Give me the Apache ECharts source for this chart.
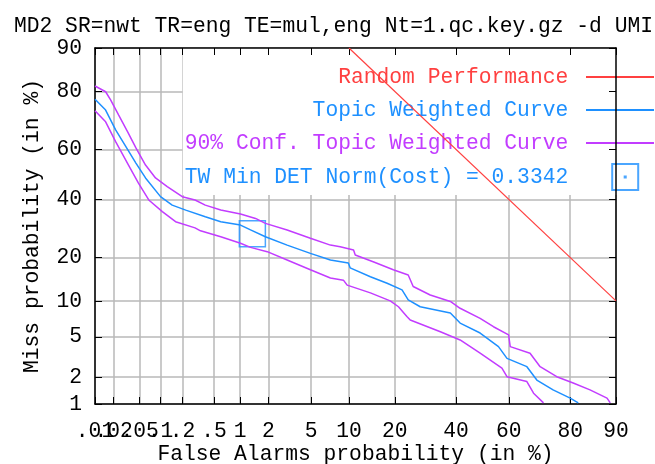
<!DOCTYPE html>
<html>
<head>
<meta charset="utf-8">
<script src="https://cdn.jsdelivr.net/npm/echarts@6/dist/echarts.min.js"></script>
<style>
html, body { margin: 0; padding: 0; background: #fff; }
#chart { width: 655px; height: 464px; }
</style>
</head>
<body>
<div id="chart"></div>
<script>
// tick marks (in %) and their printed labels
var xTickPct = [0.01, 0.02, 0.05, 0.1, 0.2, 0.5, 1, 2, 5, 10, 20, 40, 60, 80, 90];
var xTickLabels = ['.01', '.02', '.05', '.1', '.2', '.5', '1', '2', '5', '10', '20', '40', '60', '80', '90'];
var yTickPct = [1, 2, 5, 10, 20, 40, 60, 80, 90];
var yTickLabels = ['1', '2', '5', '10', '20', '40', '60', '80', '90'];

// 90% conf. upper bound
var upperFa = [0.01, 0.0149, 0.0179, 0.024, 0.033, 0.044, 0.061, 0.085, 0.124, 0.198, 0.29, 0.39, 0.60, 1.01, 1.47, 1.86, 3.04, 4.93, 7.22, 8.6, 10.8, 11.1, 14.7, 19.6, 23.8, 25.3, 30.8, 37.9, 41.5, 49.1, 54.2, 59.9, 60.5, 67.6, 71.0, 76.2, 80.8, 84.9, 88.4, 89.0];
var upperMiss = [81.5, 79.9, 77.5, 72.6, 66.7, 60.6, 53.8, 48.6, 45.1, 41.1, 39.8, 37.8, 35.9, 34.4, 32.8, 31.0, 28.7, 25.9, 23.7, 23.2, 22.2, 20.7, 18.8, 16.7, 15.4, 12.8, 11.1, 9.9, 8.75, 7.24, 6.14, 5.19, 4.05, 3.50, 2.57, 2.02, 1.73, 1.45, 1.17, 1.03];

// topic weighted curve
var twFa = [0.01, 0.0149, 0.0215, 0.031, 0.044, 0.061, 0.10, 0.145, 0.22, 0.39, 0.60, 1.01, 1.30, 1.86, 3.04, 4.93, 7.22, 9.9, 10.2, 14.1, 18.0, 22.0, 23.8, 27.5, 37.9, 41.5, 49.1, 56.1, 59.3, 66.5, 69.9, 75.1, 80.0, 82.1];
var twMiss = [77.7, 74.3, 67.4, 61.1, 54.6, 48.6, 41.1, 37.8, 35.9, 33.4, 31.6, 30.4, 28.7, 26.4, 23.7, 21.2, 19.3, 18.5, 17.2, 15.0, 13.5, 12.1, 10.2, 9.0, 8.0, 6.6, 5.4, 4.05, 3.12, 2.57, 1.86, 1.45, 1.17, 1.03];

// 90% conf. lower bound
var lowerFa = [0.01, 0.0149, 0.0215, 0.034, 0.048, 0.068, 0.106, 0.161, 0.29, 0.34, 0.60, 1.01, 1.30, 1.94, 3.04, 4.93, 7.22, 9.1, 9.7, 14.1, 18.8, 21.0, 23.4, 24.4, 34.3, 41.5, 49.1, 57.4, 59.3, 66.5, 68.8, 72.1];
var lowerMiss = [74.1, 70.3, 63.0, 53.8, 46.5, 39.8, 35.3, 31.6, 29.4, 28.4, 26.4, 24.3, 23.0, 21.7, 19.3, 16.7, 14.7, 14.2, 13.1, 11.5, 10.0, 9.0, 7.5, 7.0, 5.55, 4.67, 3.50, 2.48, 2.02, 1.79, 1.33, 1.03];

var randomFa = [10, 90];
var randomMiss = [90, 10];

var minDetFa = [1.36];
var minDetMiss = [27.4];

// inverse normal cdf (Acklam), DET axes are normal deviate scaled
function probit(p) {
    var a = [-3.969683028665376e+01, 2.209460984245205e+02, -2.759285104469687e+02, 1.383577518672690e+02, -3.066479806614716e+01, 2.506628277459239e+00];
    var b = [-5.447609879822406e+01, 1.615858368580409e+02, -1.556989798598866e+02, 6.680131188771972e+01, -1.328068155288572e+01];
    var c = [-7.784894002430293e-03, -3.223964580411365e-01, -2.400758277161838e+00, -2.549732539343734e+00, 4.374664141464968e+00, 2.938163982698783e+00];
    var d = [7.784695709041462e-03, 3.224671290700398e-01, 2.445134137142996e+00, 3.754408661907416e+00];
    var pl = 0.02425, q, r;
    if (p < pl) {
        q = Math.sqrt(-2 * Math.log(p));
        return (((((c[0] * q + c[1]) * q + c[2]) * q + c[3]) * q + c[4]) * q + c[5]) / ((((d[0] * q + d[1]) * q + d[2]) * q + d[3]) * q + 1);
    }
    if (p > 1 - pl) {
        q = Math.sqrt(-2 * Math.log(1 - p));
        return -(((((c[0] * q + c[1]) * q + c[2]) * q + c[3]) * q + c[4]) * q + c[5]) / ((((d[0] * q + d[1]) * q + d[2]) * q + d[3]) * q + 1);
    }
    q = p - 0.5;
    r = q * q;
    return (((((a[0] * r + a[1]) * r + a[2]) * r + a[3]) * r + a[4]) * r + a[5]) * q / (((((b[0] * r + b[1]) * r + b[2]) * r + b[3]) * r + b[4]) * r + 1);
}
function z(pct) { return probit(pct / 100); }
function toPoints(fa, miss) {
    return fa.map(function (v, i) { return [z(v), z(miss[i])]; });
}
function nearestLabel(v, pcts, labels) {
    var best = 0;
    for (var i = 1; i < pcts.length; i++) {
        if (Math.abs(z(pcts[i]) - v) < Math.abs(z(pcts[best]) - v)) best = i;
    }
    return labels[best];
}

var FONT = 'Liberation Mono';
var FS = 21.3;
var RED = '#ff4040', BLUE = '#1e90ff', MAGENTA = '#c23cff';
var xTickZ = xTickPct.map(z), yTickZ = yTickPct.map(z);
// gnuplot prints every x label even where they overlap; split them over two
// label-only axes so echarts does not drop the crowded first ones
var xLabelZA = xTickZ.filter(function (v, i) { return i !== 1 && i !== 3 && i !== 5; });
var xLabelZB = [xTickZ[1], xTickZ[3], xTickZ[5]];
var gridLine = { show: true, lineStyle: { color: '#b8b8b8', width: 1.5 } };
var border = { show: true, onZero: false, lineStyle: { color: '#000', width: 1.5 } };
var noSymbol = { color: 'rgba(0,0,0,0)', borderWidth: 0 };
var xMin = z(0.01), xMax = z(90), yMin = z(1), yMax = z(90);

function xLabelAxis(values) {
    return {
        type: 'value', position: 'bottom', min: xMin, max: xMax,
        axisLine: { show: false }, axisTick: { show: false }, splitLine: { show: false },
        axisLabel: {
            customValues: values, margin: 17, fontFamily: FONT, fontSize: FS, color: '#000',
            formatter: function (v) { return nearestLabel(v, xTickPct, xTickLabels); }
        }
    };
}

var myChart = echarts.init(document.getElementById('chart'));
var option = {
    animation: false,
    backgroundColor: '#fff',
    title: {
        text: 'MD2 SR=nwt TR=eng TE=mul,eng Nt=1.qc.key.gz -d UMI',
        left: 9, top: 11,
        textStyle: { fontFamily: FONT, fontSize: FS, fontWeight: 'normal', color: '#000' }
    },
    grid: { left: 95, right: 39, top: 48, bottom: 60, outerBoundsMode: 'none' },
    legend: {
        orient: 'vertical', align: 'right', right: 0, top: 48,
        padding: [16, 0, 4, 2], backgroundColor: '#fff', z: 1,
        itemWidth: 68, itemHeight: 26, itemGap: 7,
        textStyle: { fontFamily: FONT, fontSize: FS, lineHeight: 26 },
        formatter: function (n) { return n + ' '; },
        data: [
            { name: 'Random Performance', textStyle: { color: RED }, itemStyle: noSymbol },
            { name: 'Topic Weighted Curve', textStyle: { color: BLUE }, itemStyle: noSymbol },
            { name: '90% Conf. Topic Weighted Curve', textStyle: { color: MAGENTA }, itemStyle: noSymbol },
            { name: 'TW Min DET Norm(Cost) = 0.3342', textStyle: { color: BLUE },
              icon: 'path://M-8,10 M0,0H20V20H0Z M9.6,9.6H10.4V10.4H9.6Z' }
        ]
    },
    xAxis: [{
        type: 'value', position: 'bottom', min: xMin, max: xMax,
        axisLine: border,
        axisTick: { show: true, inside: true, length: 7, customValues: xTickZ, lineStyle: { color: '#000' } },
        axisLabel: { show: false },
        splitLine: gridLine,
        name: 'False Alarms probability (in %)', nameLocation: 'middle', nameGap: 40,
        nameTextStyle: { fontFamily: FONT, fontSize: FS, color: '#000' }
    },
    xLabelAxis(xLabelZA),
    xLabelAxis(xLabelZB),
    {
        type: 'value', position: 'top', min: xMin, max: xMax, z: 3,
        axisLine: border,
        axisTick: { show: true, inside: true, length: 7, customValues: xTickZ, lineStyle: { color: '#000' } },
        axisLabel: { show: false }, splitLine: { show: false }
    }],
    yAxis: [{
        type: 'value', position: 'left', min: yMin, max: yMax,
        axisLine: border,
        axisTick: { show: true, inside: true, length: 7, customValues: yTickZ, lineStyle: { color: '#000' } },
        axisLabel: {
            customValues: yTickZ, margin: 13, fontFamily: FONT, fontSize: FS, color: '#000',
            formatter: function (v) { return nearestLabel(v, yTickPct, yTickLabels); }
        },
        splitLine: gridLine,
        name: 'Miss probability (in %)', nameLocation: 'middle', nameGap: 52,
        nameTextStyle: { fontFamily: FONT, fontSize: FS, color: '#000' }
    }, {
        type: 'value', position: 'right', min: yMin, max: yMax, z: 3,
        axisLine: border,
        axisTick: { show: true, inside: true, length: 7, customValues: yTickZ, lineStyle: { color: '#000' } },
        axisLabel: { show: false }, splitLine: { show: false }
    }],
    series: [{
        name: 'Random Performance', type: 'line', symbol: 'none',
        data: toPoints(randomFa, randomMiss),
        lineStyle: { color: RED, width: 1.2 }, itemStyle: { color: RED }
    }, {
        name: 'Topic Weighted Curve', type: 'line', symbol: 'none',
        data: toPoints(twFa, twMiss),
        lineStyle: { color: BLUE, width: 1.5 }, itemStyle: { color: BLUE }
    }, {
        name: '90% Conf. Topic Weighted Curve', type: 'line', symbol: 'none',
        data: toPoints(upperFa, upperMiss),
        lineStyle: { color: MAGENTA, width: 1.5 }, itemStyle: { color: MAGENTA }
    }, {
        name: '90% Conf. Topic Weighted Curve', type: 'line', symbol: 'none',
        data: toPoints(lowerFa, lowerMiss),
        lineStyle: { color: MAGENTA, width: 1.5 }, itemStyle: { color: MAGENTA }
    }, {
        name: 'TW Min DET Norm(Cost) = 0.3342', type: 'scatter',
        symbol: 'rect', symbolSize: 26,
        data: toPoints(minDetFa, minDetMiss),
        itemStyle: { color: 'rgba(0,0,0,0)', borderColor: BLUE, borderWidth: 1.5 }
    }]
};
myChart.setOption(option);
</script>
</body>
</html>
